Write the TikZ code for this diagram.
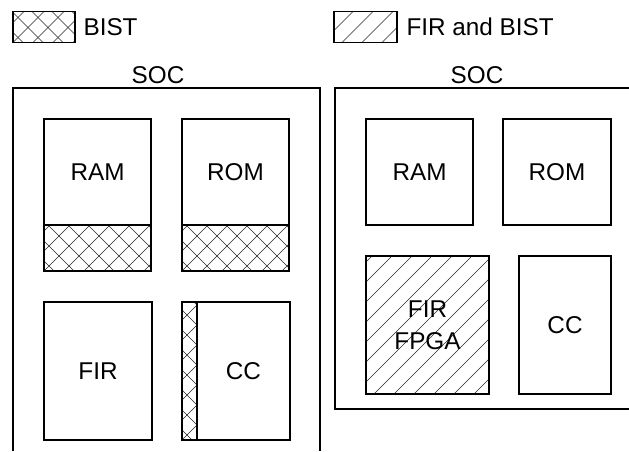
\documentclass[tikz,border=0pt]{standalone}
\usepackage{fontspec}
\setmainfont{Liberation Sans}
\begin{document}
\begin{tikzpicture}[x=1pt,y=-1pt,
  font=\fontsize{24.3}{32}\selectfont,
  line width=1.1pt,
  hatchline/.style={line width=0.65pt,draw=black!85},
  blk/.style={draw, inner sep=0pt, minimum width=#1},
  crosshatch/.style={path picture={
     \foreach \k in {-12,...,12} {
       \draw[hatchline] ([xshift=\k*20pt]path picture bounding box.south west) -- ++(300pt,300pt);
       \draw[hatchline] ([xshift=\k*20pt+10pt]path picture bounding box.south west) -- ++(-300pt,300pt);
     }}},
  diaghatch/.style={path picture={
     \foreach \k in {-12,...,12} {
       \draw[hatchline] ([xshift=\k*20pt+8pt]path picture bounding box.south west) -- ++(300pt,300pt);
     }}}
]
\useasboundingbox (0,0) rectangle (629,451);

% legend
\node[blk=62pt, minimum height=31pt, crosshatch] (lgA) at (44,27) {};
\node[anchor=west, inner sep=0pt] (lgAt) at (83,27) {BIST};
\node[blk=63pt, minimum height=31pt, diaghatch] (lgB) at (365.5,27) {};
\node[anchor=west, inner sep=0pt] (lgBt) at (406,27) {FIR and BIST};

% SOC titles
\node (socL) at (158,75) {SOC};
\node (socR) at (477,75) {SOC};

% left SOC outline (open at bottom)
\draw (13,451) -- (13,88) -- (320,88) -- (320,451);
% right SOC outline (cut at right edge)
\draw (629,88) -- (335,88) -- (335,409) -- (629,409);

% left SOC blocks
\node[blk=107pt, minimum height=106pt] (ramL) at (97.5,172) {RAM};
\node[blk=107pt, minimum height=46pt, crosshatch] (ramLb) at (97.5,248) {};
\node[blk=107pt, minimum height=106pt] (romL) at (235.5,172) {ROM};
\node[blk=107pt, minimum height=46pt, crosshatch] (romLb) at (235.5,248) {};
\node[blk=108pt, minimum height=138pt] (firL) at (98,371) {FIR};
\node[blk=15pt, minimum height=138pt, crosshatch] (ccLb) at (189.5,371) {};
\node[blk=93pt, minimum height=138pt] (ccL) at (243.5,371) {CC};

% right SOC blocks
\node[blk=107pt, minimum height=106pt] (ramR) at (419.5,172) {RAM};
\node[blk=108pt, minimum height=106pt] (romR) at (557,172) {ROM};
\node[blk=123pt, minimum height=138pt, diaghatch, align=center] (fpga) at (427.5,325) {FIR\\FPGA};
\node[blk=92pt, minimum height=138pt] (ccR) at (565,325) {CC};
\end{tikzpicture}
\end{document}
